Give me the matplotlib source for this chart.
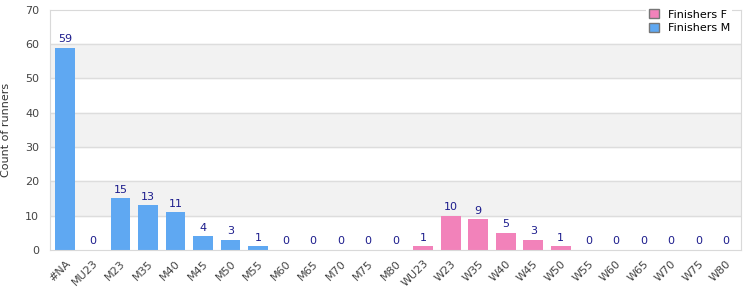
import matplotlib.pyplot as plt
from matplotlib.patches import Patch

categories = ['#NA', 'MU23', 'M23', 'M35', 'M40', 'M45', 'M50', 'M55', 'M60', 'M65',
              'M70', 'M75', 'M80', 'WU23', 'W23', 'W35', 'W40', 'W45', 'W50', 'W55',
              'W60', 'W65', 'W70', 'W75', 'W80']
finishers_m = [59, 0, 15, 13, 11, 4, 3, 1, 0, 0, 0, 0, 0,
               0, 0, 0, 0, 0, 0, 0, 0, 0, 0, 0, 0]
finishers_f = [0, 0, 0, 0, 0, 0, 0, 0, 0, 0, 0, 0, 0,
               1, 10, 9, 5, 3, 1, 0, 0, 0, 0, 0, 0]
n_male = 13  # first 13 categories are male groups

blue = '#5fa8f2'
pink = '#f282ba'
navy = '#1c1c8c'

fig = plt.figure(figsize=(7.5, 3), dpi=100)
ax = fig.add_axes([0.067, 0.167, 0.921, 0.80])

x = list(range(len(categories)))

# alternating background bands
for lo in range(10, 70, 20):
    ax.axhspan(lo, lo + 10, color='#f2f2f2', zorder=0)
for y in range(10, 70, 10):
    ax.axhline(y, color='#dddddd', lw=1, zorder=1)

ax.bar(x, finishers_m, width=0.72, color=blue, zorder=2)
ax.bar(x, finishers_f, width=0.72, color=pink, zorder=2)

for i in x:
    v = finishers_m[i] if i < n_male else finishers_f[i]
    ax.text(i, v + 1.0, str(v), ha='center', va='bottom', color=navy, fontsize=8)

ax.set_xlim(-0.55, len(categories) - 0.45)
ax.set_ylim(0, 70)
ax.set_yticks(range(0, 71, 10))
ax.set_xticks(x)
ax.set_xticklabels(categories, rotation=45, ha='right', rotation_mode='anchor')
ax.tick_params(axis='both', length=0, labelsize=8, colors='#444444')
ax.tick_params(axis='y', pad=8)
ax.tick_params(axis='x', pad=6)
ax.set_ylabel('Count of runners', fontsize=8, color='#333333', labelpad=10)

for s in ax.spines.values():
    s.set_color('#d9d9d9')

handles = [Patch(facecolor=pink, edgecolor='#777777', label='Finishers F'),
           Patch(facecolor=blue, edgecolor='#777777', label='Finishers M')]
leg = ax.legend(handles=handles, loc='upper right', bbox_to_anchor=(0.995, 1.035),
                frameon=True, fontsize=8, handlelength=0.9, handleheight=0.9,
                labelspacing=0.3, borderpad=0.2, handletextpad=0.8)
leg.get_frame().set_edgecolor('none')
leg.get_frame().set_facecolor('white')
leg.get_frame().set_alpha(1)
leg.set_zorder(5)

fig.savefig('out.png', dpi=100)
